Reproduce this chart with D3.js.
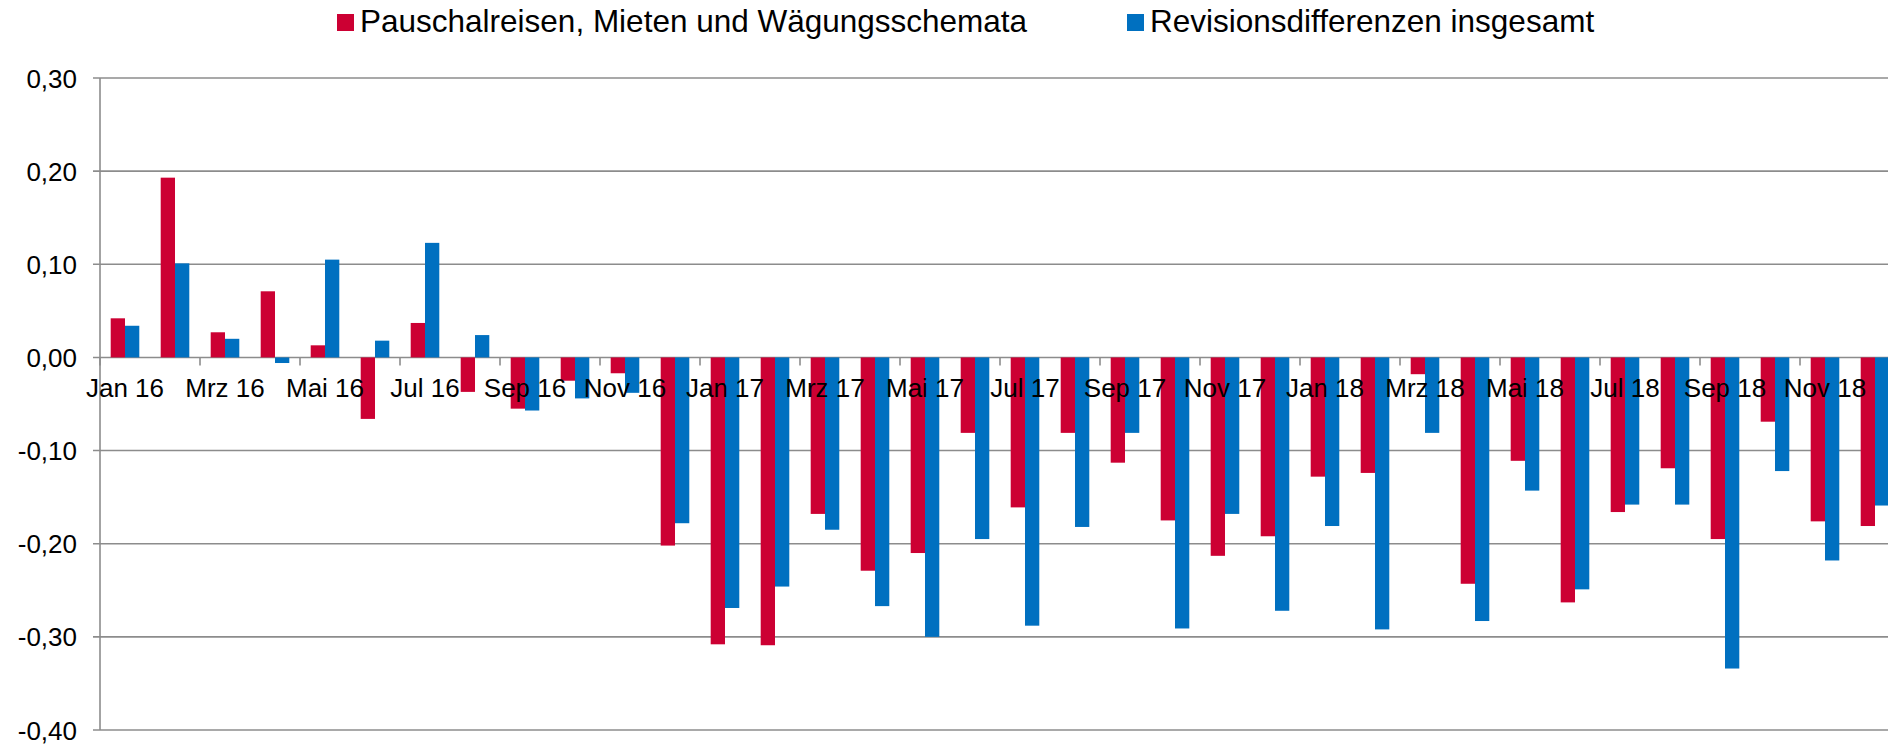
<html>
  <head>
    <script src='https://d3js.org/d3.v7.min.js'></script>
    <style>
      body { margin: 0; background: #fff; }
      text { font-family: 'Liberation Sans', Arial, sans-serif; fill: #000; }
    </style>
  </head>
  <body>
    <svg width=1888 height=744></svg>
    <script>
      // monthly categories, Jan 16 - Dez 18
      const MONTHS = ['Jan 16', 'Feb 16', 'Mrz 16', 'Apr 16', 'Mai 16', 'Jun 16', 'Jul 16', 'Aug 16', 'Sep 16', 'Okt 16', 'Nov 16', 'Dez 16',
                      'Jan 17', 'Feb 17', 'Mrz 17', 'Apr 17', 'Mai 17', 'Jun 17', 'Jul 17', 'Aug 17', 'Sep 17', 'Okt 17', 'Nov 17', 'Dez 17',
                      'Jan 18', 'Feb 18', 'Mrz 18', 'Apr 18', 'Mai 18', 'Jun 18', 'Jul 18', 'Aug 18', 'Sep 18', 'Okt 18', 'Nov 18', 'Dez 18'];

      const SERIES = ['Pauschalreisen, Mieten und Wägungsschemata', 'Revisionsdifferenzen insgesamt'];
      const COLORS = ['#cc0033', '#0070c0'];

      const PAUSCHAL = [0.042, 0.193, 0.027, 0.071, 0.013, -0.066, 0.037, -0.037, -0.055, -0.025, -0.017, -0.202,
                        -0.308, -0.309, -0.168, -0.229, -0.210, -0.081, -0.161, -0.081, -0.113, -0.175, -0.213, -0.192,
                        -0.128, -0.124, -0.018, -0.243, -0.111, -0.263, -0.166, -0.119, -0.195, -0.069, -0.176, -0.181];
      const REVISION = [0.034, 0.101, 0.020, -0.006, 0.105, 0.018, 0.123, 0.024, -0.057, -0.044, -0.038, -0.178,
                        -0.269, -0.246, -0.185, -0.267, -0.300, -0.195, -0.288, -0.182, -0.081, -0.291, -0.168, -0.272,
                        -0.181, -0.292, -0.081, -0.283, -0.143, -0.249, -0.158, -0.158, -0.334, -0.122, -0.218, -0.159];

      const Y_TICKS = [0.3, 0.2, 0.1, 0, -0.1, -0.2, -0.3, -0.4];

      const de = d3.formatLocale({decimal: ',', thousands: '.', grouping: [3], currency: ['', ' €'], minus: '-'});
      const fmt = de.format('.2f');

      const svg = d3.select('svg');
      const grid = '#8c8c8c';

      // plot runs past the right edge, like the original crop
      const x0 = d3.scaleBand().domain(MONTHS).range([100, 1900]);
      const x1 = d3.scaleBand().domain([0, 1])
        .range([x0.bandwidth() * 0.214, x0.bandwidth() * 0.786]);
      const y = d3.scaleLinear().domain([-0.4, 0.3]).range([730, 78]);

      // gridlines
      svg.append('g').selectAll('line').data(Y_TICKS).enter().append('line')
        .attr('x1', 93).attr('x2', 1888)
        .attr('y1', d => y(d)).attr('y2', d => y(d))
        .attr('stroke', grid).attr('stroke-width', 1.6);

      // y axis
      svg.append('line').attr('x1', 100).attr('x2', 100).attr('y1', y(0.3)).attr('y2', y(-0.4))
        .attr('stroke', grid).attr('stroke-width', 1.6);

      svg.append('g').selectAll('text').data(Y_TICKS).enter().append('text')
        .attr('x', 77).attr('y', d => y(d) + 9.5)
        .attr('text-anchor', 'end').style('font-size', '26px')
        .text(d => fmt(d));

      // bars
      const rows = MONTHS.map((m, i) => ({month: m, vals: [PAUSCHAL[i], REVISION[i]]}));
      const groups = svg.append('g').selectAll('g').data(rows).enter().append('g')
        .attr('transform', d => 'translate(' + x0(d.month) + ',0)');
      groups.selectAll('rect').data(d => d.vals).enter().append('rect')
        .attr('x', (d, i) => x1(i)).attr('width', x1.bandwidth())
        .attr('y', d => y(Math.max(0, d)))
        .attr('height', d => Math.abs(y(d) - y(0)))
        .style('fill', (d, i) => COLORS[i]);

      // category ticks every second month
      const tickIdx = d3.range(0, MONTHS.length + 1, 2);
      svg.append('g').selectAll('line').data(tickIdx).enter().append('line')
        .attr('x1', i => 100 + i * x0.step()).attr('x2', i => 100 + i * x0.step())
        .attr('y1', y(0)).attr('y2', y(0) + 8)
        .attr('stroke', grid).attr('stroke-width', 1.6);

      svg.append('g').selectAll('text').data(MONTHS.filter((m, i) => i % 2 == 0)).enter().append('text')
        .attr('x', d => x0(d) + x0.bandwidth() / 2).attr('y', y(0) + 40)
        .attr('text-anchor', 'middle').style('font-size', '26px')
        .text(d => d);

      // legend
      const LEGEND_X = [337, 1127];
      const leg = svg.append('g').selectAll('g').data(SERIES).enter().append('g')
        .attr('transform', (d, i) => 'translate(' + LEGEND_X[i] + ',0)');
      leg.append('rect').attr('x', 0).attr('y', 14).attr('width', 17).attr('height', 17)
        .style('fill', (d, i) => COLORS[i]);
      leg.append('text').attr('x', 23).attr('y', 32).style('font-size', '31.5px').text(d => d);
    </script>
  </body>
</html>
